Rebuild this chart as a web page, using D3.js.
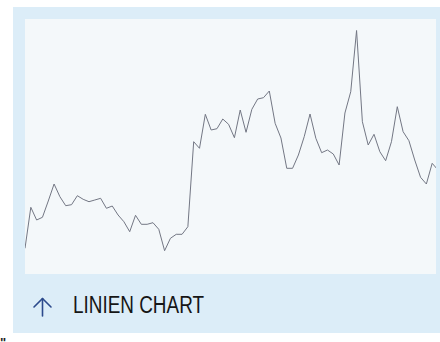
<!DOCTYPE html>
<html>
<head>
<meta charset="utf-8">
<script src="https://cdn.jsdelivr.net/npm/d3@7"></script>
<style>
  html, body { margin: 0; padding: 0; background: #ffffff; overflow: hidden; }
  svg { display: block; }
</style>
</head>
<body>
<svg id="chart" width="440" height="342"></svg>
<script>
// ---- data ----
const title = "LINIEN CHART";
const indices = d3.range(72);
const values = [
  25.7, 66.7, 54, 56.7, 73, 90, 77.3, 68.3, 69.3, 78.3,
  74.7, 72.3, 74, 75.7, 65.7, 68, 59, 52.3, 42.3, 58.7,
  49.7, 49.7, 51.3, 44.7, 23.3, 35.7, 39.7, 39.7, 47.3, 132.3,
  125.7, 159.7, 144, 145.3, 155, 149.7, 136.3, 164, 141.7, 164.7,
  175, 176.3, 183, 150.7, 136, 105.7, 105.7, 119, 137.3, 160,
  135.7, 121.3, 124, 120, 109, 161, 182.3, 243.5, 152.3, 129,
  139.7, 122.3, 113.3, 132.3, 167.3, 142.3, 133.3, 114, 96.7, 90,
  110.7, 104
];
const yDomain = [0, 255];

// ---- layout ----
const svg = d3.select("#chart");
const outer = { x: 13, y: 7, w: 440, h: 326 };
const inner = { x: 25, y: 19, w: 411, h: 255 };

svg.append("rect")
  .attr("x", outer.x).attr("y", outer.y)
  .attr("width", outer.w).attr("height", outer.h)
  .attr("fill", "#dcedf8");

svg.append("rect")
  .attr("x", inner.x).attr("y", inner.y)
  .attr("width", inner.w).attr("height", inner.h)
  .attr("fill", "#f4f8fa");

svg.append("clipPath").attr("id", "clip")
  .append("rect")
  .attr("x", inner.x).attr("y", inner.y)
  .attr("width", inner.w).attr("height", inner.h);

const x = d3.scaleLinear()
  .domain([0, indices.length - 1])
  .range([inner.x, inner.x + 413]);
const y = d3.scaleLinear()
  .domain(yDomain)
  .range([inner.y + inner.h, inner.y]);

const line = d3.line()
  .x((d, i) => x(indices[i]))
  .y(d => y(d));

svg.append("path")
  .datum(values)
  .attr("clip-path", "url(#clip)")
  .attr("fill", "none")
  .attr("stroke", "#737784")
  .attr("stroke-width", 1)
  .attr("stroke-linejoin", "round")
  .attr("d", line);

// ---- footer ----
const arrow = svg.append("g")
  .attr("fill", "none")
  .attr("stroke", "#2c4a8c")
  .attr("stroke-width", 1.6)
  .attr("stroke-linecap", "round")
  .attr("stroke-linejoin", "round");
arrow.append("path").attr("d", "M42.5,298.5 L42.5,316");
arrow.append("path").attr("d", "M34,307 L42.5,298.5 L51,307");

svg.append("text")
  .attr("x", 73)
  .attr("y", 313)
  .attr("font-family", "'Liberation Sans', Arial, sans-serif")
  .attr("font-size", 23)
  .attr("textLength", 131)
  .attr("lengthAdjust", "spacingAndGlyphs")
  .attr("fill", "#161616")
  .text(title);

svg.append("text")
  .attr("x", 0)
  .attr("y", 347)
  .attr("font-family", "'Liberation Sans', Arial, sans-serif")
  .attr("font-weight", "bold")
  .attr("font-size", 13)
  .attr("fill", "#222")
  .text('"');
</script>
</body>
</html>
